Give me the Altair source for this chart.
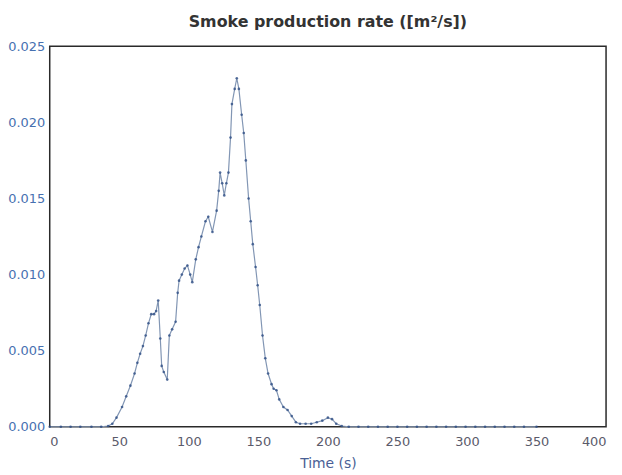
import altair as alt
import pandas as pd

# Values (time in s, smoke production rate in m²/s)
time_s = [0, 8, 15, 22, 30, 37, 42, 45, 48, 52, 55, 58, 61, 63, 65, 67, 69, 71,
          73, 75, 76.5, 78, 79.5, 80.5, 82, 84.5, 86, 88, 90.5, 92, 93, 95, 97,
          99, 101, 102.5, 105, 107, 109, 112, 114, 117, 120, 121.5, 122.5, 124,
          125.5, 127, 128.5, 130, 131, 133, 134.5, 136, 138, 139.5, 141, 143,
          144.5, 146, 148, 149.5, 151, 153, 155, 157, 159.5, 161, 163, 165, 168,
          171, 174, 177, 180, 184, 188, 192, 196, 200, 203, 206, 210,
          215, 222, 229, 236, 243, 250, 257, 264, 271, 278,
          285, 292, 299, 306, 313, 320, 327, 334, 341, 350]
smoke_rate = [0, 0, 0, 0, 0, 0, 0.00005, 0.0002, 0.0006, 0.0013, 0.0020, 0.0027,
              0.0035, 0.0042, 0.0048, 0.0053, 0.0060, 0.0068, 0.0074, 0.0074,
              0.0076, 0.0083, 0.0058, 0.0040, 0.0036, 0.0031, 0.0060, 0.0064,
              0.0069, 0.0088, 0.0096, 0.0100, 0.0104, 0.0106, 0.0100, 0.0095,
              0.0110, 0.0118, 0.0125, 0.0135, 0.0138, 0.0128, 0.0142, 0.0155,
              0.0167, 0.0160, 0.0152, 0.0160, 0.0167, 0.0190, 0.0212, 0.0222,
              0.0229, 0.0222, 0.0205, 0.0193, 0.0175, 0.0150, 0.0135, 0.0120,
              0.0105, 0.0093, 0.0080, 0.0060, 0.0045, 0.0035, 0.0028, 0.0025,
              0.0024, 0.0018, 0.0013, 0.0011, 0.0007, 0.0003, 0.0002, 0.0002,
              0.0002, 0.0003, 0.0004, 0.0006, 0.0005, 0.0002, 0.00005,
              0, 0, 0, 0, 0, 0, 0, 0, 0, 0,
              0, 0, 0, 0, 0, 0, 0, 0, 0, 0]

x_ticks = [0, 50, 100, 150, 200, 250, 300, 350, 400]
y_ticks = [0, 0.005, 0.010, 0.015, 0.020, 0.025]

df = pd.DataFrame({"t": time_s, "rate": smoke_rate})

font = "DejaVu Sans"

x_enc = alt.X("t:Q", title="Time (s)",
              scale=alt.Scale(domain=[0, 400], nice=False),
              axis=alt.Axis(values=x_ticks, format="d", grid=False, ticks=False,
                            domain=False, labelFont=font, labelFontSize=13,
                            labelColor="#5a5a6a", labelPadding=9,
                            titleFont=font, titleFontSize=14, titleFontWeight="normal",
                            titleColor="#4a5f95", titlePadding=8))
y_enc = alt.Y("rate:Q", title=None,
              scale=alt.Scale(domain=[0, 0.025], nice=False),
              axis=alt.Axis(values=y_ticks, format=".3f", grid=False, ticks=False,
                            domain=False, labelFont=font, labelFontSize=13,
                            labelColor="#4670b0", labelPadding=5))

base = alt.Chart(df).encode(x=x_enc, y=y_enc)

line = base.mark_line(color="#8296b4", strokeWidth=1.2)
dots = base.mark_point(filled=True, size=7, color="#2f4f86", opacity=0.8)

chart = (line + dots).properties(
    width=560,
    height=383,
    autosize="none",
    padding={"left": 42, "top": 37, "right": 8, "bottom": 46},
    title=alt.TitleParams("Smoke production rate ([m²/s])", font=font,
                          fontSize=16, fontWeight="bold", color="#333333",
                          offset=10),
).configure(
    background="white",
    view=alt.ViewConfig(stroke="#2a2a2a", strokeWidth=1.5),
)

chart.save("out.html", embed_options={"renderer": "svg", "actions": False})
